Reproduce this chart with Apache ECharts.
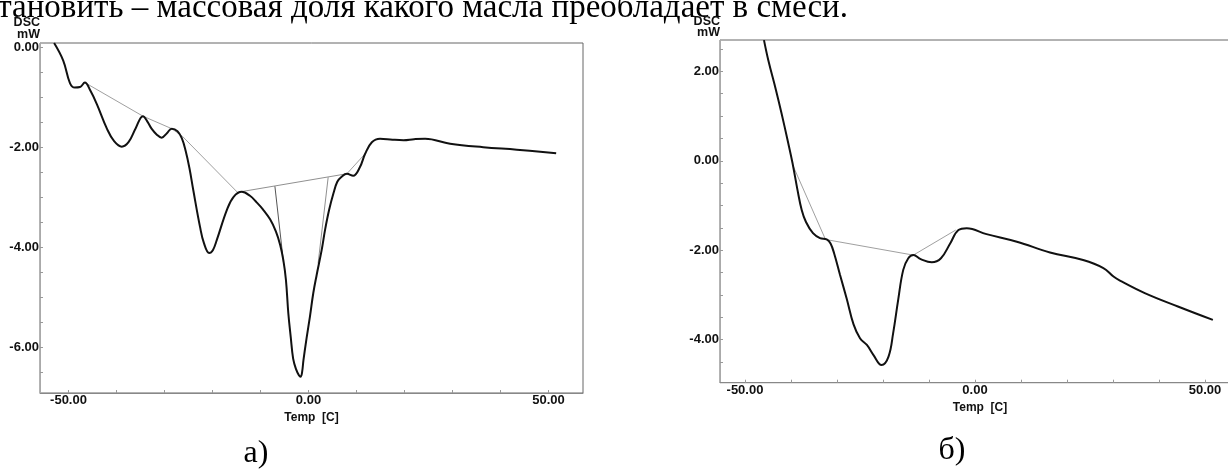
<!DOCTYPE html>
<html><head><meta charset="utf-8">
<script src="https://cdn.jsdelivr.net/npm/echarts@6/dist/echarts.min.js"></script>
<style>html,body{margin:0;padding:0;background:#fff}#c{width:1228px;height:473px}</style>
</head><body><div id="c"></div>
<script>
// ---------- Data: chart а) ----------
const aTemp = [-53.0,-51.1,-49.7,-48.7,-47.6,-46.6,-45.4,-44.1,-42.0,-40.5,-38.9,-37.5,-36.0,-34.5,-33.5,-32.7,-31.6,-30.6,-29.5,-28.5,-27.3,-26.4,-25.6,-24.8,-24.0,-22.6,-21.8,-20.7,-19.9,-19.1,-17.0,-15.6,-13.9,-12.2,-10.8,-9.5,-8.0,-6.8,-5.9,-5.25,-4.7,-4.2,-3.7,-3.2,-2.6,-2.0,-1.65,-1.35,-1.05,-0.4,0.3,1.0,1.7,2.75,3.45,4.3,5.2,6.0,6.9,8.0,9.3,10.7,11.8,13.2,14.9,17.5,19.8,22.0,24.3,29.5,36.4,43.4,51.6];
const aDsc  = [0.08,-0.27,-0.72,-0.81,-0.80,-0.71,-0.88,-1.14,-1.63,-1.88,-1.99,-1.90,-1.62,-1.38,-1.50,-1.63,-1.75,-1.81,-1.72,-1.63,-1.68,-1.82,-2.07,-2.42,-2.86,-3.59,-3.91,-4.11,-4.05,-3.85,-3.25,-2.99,-2.89,-2.97,-3.10,-3.24,-3.44,-3.68,-3.95,-4.25,-4.65,-5.32,-5.79,-6.22,-6.43,-6.55,-6.58,-6.50,-6.25,-5.81,-5.38,-4.91,-4.55,-4.05,-3.65,-3.25,-2.92,-2.69,-2.59,-2.53,-2.57,-2.40,-2.13,-1.90,-1.83,-1.85,-1.86,-1.84,-1.83,-1.93,-2.00,-2.05,-2.12];
// construction (tangent / baseline) lines of а)
const aGuide1Temp = [-46.6,-34.5,-28.5,-26.3,-14.8];
const aGuide1Dsc  = [-0.71,-1.38,-1.63,-1.78,-2.90];
const aGuide2Temp = [-14.8, 8.0];
const aGuide2Dsc  = [-2.90,-2.53];
const aGuide3Temp = [-7.0,-5.15];
const aGuide3Dsc  = [-2.78,-4.35];
const aGuide4Temp = [4.1, 2.0];
const aGuide4Dsc  = [-2.60,-4.32];
const aGuide5Temp = [8.0, 11.8];
const aGuide5Dsc  = [-2.53,-2.13];

// ---------- Data: chart б) ----------
const bTemp = [-45.87,-44.93,-43.26,-42.07,-40.76,-39.67,-38.59,-37.67,-36.74,-35.22,-33.7,-32.24,-31.4,-30.6,-29.35,-27.9,-26.4,-25.0,-23.5,-22.1,-20.3,-18.8,-17.8,-16.7,-15.6,-14.5,-13.4,-11.8,-9.4,-7.4,-5.4,-3.6,-1.8,2.5,9.1,16.3,23.5,27.9,30.1,31.5,36.9,44.1,51.7];
const bDsc  = [2.70,2.25,1.58,1.07,0.47,-0.05,-0.65,-1.10,-1.37,-1.62,-1.73,-1.76,-1.85,-2.08,-2.55,-3.08,-3.66,-3.97,-4.12,-4.34,-4.57,-4.38,-3.86,-3.11,-2.44,-2.18,-2.11,-2.20,-2.27,-2.18,-1.85,-1.55,-1.51,-1.64,-1.81,-2.05,-2.22,-2.40,-2.59,-2.68,-2.96,-3.26,-3.56];
const bGuide1Temp = [-39.6,-32.5];
const bGuide1Dsc  = [-0.10,-1.76];
const bGuide2Temp = [-32.5,-13.4];
const bGuide2Dsc  = [-1.76,-2.11];
const bGuide3Temp = [-13.4,-4.2];
const bGuide3Dsc  = [-2.11,-1.55];

// ---------- Tick labels ----------
const xLabelVals = [-50, 0, 50];
const xTickVals  = [-50,-40,-30,-20,-10,0,10,20,30,40,50];
const aYLabelVals = [0,-2,-4,-6];
const aYTickVals  = [0,-0.5,-1,-1.5,-2,-2.5,-3,-3.5,-4,-4.5,-5,-5.5,-6,-6.5];
const bYLabelVals = [2,0,-2,-4];
const bYTickVals  = [2.5,2,1.5,1,0.5,0,-0.5,-1,-1.5,-2,-2.5,-3,-3.5,-4,-4.5];

const zip = (t, v) => t.map((x, i) => [x, v[i]]);

const lblFont = {color:'#111', fontFamily:'Liberation Sans', fontWeight:'bold', fontSize:13};

function xAxis(gi, min, max, margin, nameGap) {
  return {
    type:'value', gridIndex:gi, min:min, max:max,
    name:'Temp  [C]', nameLocation:'middle', nameGap:nameGap,
    nameTextStyle:{color:'#111', fontFamily:'Liberation Sans', fontWeight:'bold', fontSize:12},
    axisLine:{show:true, onZero:false, lineStyle:{color:'#888', width:1}},
    axisTick:{show:true, inside:true, length:3, customValues:xTickVals, lineStyle:{color:'#999'}},
    axisLabel:Object.assign({margin:margin, customValues:xLabelVals, formatter:v=>v.toFixed(2)}, lblFont),
    splitLine:{show:false}
  };
}
function yAxis(gi, min, max, labels, ticks, nameGap) {
  return {
    type:'value', gridIndex:gi, min:min, max:max,
    name:'DSC\nmW', nameLocation:'end', nameGap:nameGap,
    nameTextStyle:{color:'#111', fontFamily:'Liberation Sans', fontWeight:'bold', fontSize:12.5, align:'right', verticalAlign:'bottom', lineHeight:11.5},
    axisLine:{show:true, onZero:false, lineStyle:{color:'#aaa', width:1}},
    axisTick:{show:true, inside:true, length:3, customValues:ticks, lineStyle:{color:'#999'}},
    axisLabel:Object.assign({margin:1, customValues:labels, formatter:v=>v.toFixed(2)}, lblFont),
    splitLine:{show:false}
  };
}
function curve(xi, data) {
  return {type:'line', xAxisIndex:xi, yAxisIndex:xi, data:data, symbol:'none', smooth:0.4,
    lineStyle:{color:'#111', width:2}, z:5, silent:true};
}
function guide(xi, data, color) {
  return {type:'line', xAxisIndex:xi, yAxisIndex:xi, data:data, symbol:'none', smooth:false,
    lineStyle:{color:color, width:1}, z:3, silent:true};
}

const chart = echarts.init(document.getElementById('c'), null, {renderer:'canvas'});
chart.setOption({
  animation:false,
  backgroundColor:'#fff',
  grid:[
    {left:40, top:43, width:543, height:350, show:true, borderColor:'#666', borderWidth:1, containLabel:false, outerBoundsMode:'none'},
    {left:720, top:40, width:520, height:342.7, show:true, borderColor:'#666', borderWidth:1, containLabel:false, outerBoundsMode:'none'}
  ],
  xAxis:[ xAxis(0, -55.94, 57.19, 1, 13), xAxis(1, -55.43, 57.6, 1.5, 17) ],
  yAxis:[ yAxis(0, -6.906, 0.08, aYLabelVals, aYTickVals, 3), yAxis(1, -4.964, 2.702, bYLabelVals, bYTickVals, 1.5) ],
  graphic:[
    {type:'text', x:848, y:8, z:-1, style:{text:'установить – массовая доля какого масла преобладает в смеси.', fill:'#000', font:'33px "Liberation Serif"', textAlign:'right', textVerticalAlign:'middle'}},
    {type:'text', x:256, y:454, style:{text:'а)', fill:'#000', font:'32px "Liberation Serif"', textAlign:'center', textVerticalAlign:'middle'}},
    {type:'text', x:952, y:451, style:{text:'б)', fill:'#000', font:'32px "Liberation Serif"', textAlign:'center', textVerticalAlign:'middle'}}
  ],
  series:[
    guide(0, zip(aGuide1Temp, aGuide1Dsc), '#a0a0a0'),
    guide(0, zip(aGuide2Temp, aGuide2Dsc), '#909090'),
    guide(0, zip(aGuide3Temp, aGuide3Dsc), '#555'),
    guide(0, zip(aGuide4Temp, aGuide4Dsc), '#909090'),
    guide(0, zip(aGuide5Temp, aGuide5Dsc), '#a0a0a0'),
    curve(0, zip(aTemp, aDsc)),
    guide(1, zip(bGuide1Temp, bGuide1Dsc), '#a0a0a0'),
    guide(1, zip(bGuide2Temp, bGuide2Dsc), '#a0a0a0'),
    guide(1, zip(bGuide3Temp, bGuide3Dsc), '#a0a0a0'),
    curve(1, zip(bTemp, bDsc))
  ]
});
</script></body></html>
